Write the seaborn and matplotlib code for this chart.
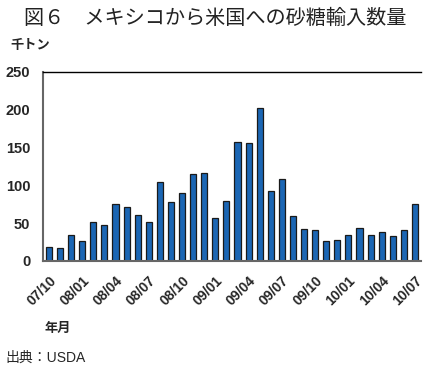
import pandas as pd
import numpy as np
import matplotlib
matplotlib.use('Agg')
import matplotlib.pyplot as plt
import seaborn as sns

# -------------------------------
# DATA
# -------------------------------

months = [
    '07/10', '07/11', '07/12',
    '08/01', '08/02', '08/03', '08/04', '08/05', '08/06',
    '08/07', '08/08', '08/09', '08/10', '08/11', '08/12',
    '09/01', '09/02', '09/03', '09/04', '09/05', '09/06',
    '09/07', '09/08', '09/09', '09/10', '09/11', '09/12',
    '10/01', '10/02', '10/03', '10/04', '10/05', '10/06', '10/07'
]

imports = [
    18, 17, 35,
    27, 52, 48, 75, 72, 61,
    51, 104, 78, 90, 115, 117,
    57, 80, 157, 156, 203, 92,
    109, 59, 42, 41, 26, 28,
    35, 44, 35, 38, 33, 41, 75
]

tick_labels = ['07/10', '08/01', '08/04', '08/07', '08/10', '09/01',
               '09/04', '09/07', '09/10', '10/01', '10/04', '10/07']

df = pd.DataFrame({'month': months, 'imports': imports})

# -------------------------------
# PLOT
# -------------------------------

sns.set_style('white')
plt.rcParams['font.family'] = ['Noto Sans CJK JP', 'DejaVu Sans']
latin = ['Liberation Sans', 'Noto Sans CJK JP']

fig = plt.figure(figsize=(4.24, 3.71), dpi=100)
ax = fig.add_axes([0.101, 0.2965, 0.892, 0.5095])

sns.barplot(
    data=df,
    x='month',
    y='imports',
    color='#1b66b4',
    saturation=1,
    width=0.55,
    edgecolor='#1a1a1a',
    linewidth=0.9,
    ax=ax
)

ax.set_xlim(-0.55, len(months) - 0.45)
ax.set_ylim(0, 250)
ax.set_yticks([0, 50, 100, 150, 200, 250])
ax.set_yticklabels(['0', '50', '100', '150', '200', '250'],
                   fontsize=10.5, fontweight='bold', family=latin)

pos = [months.index(m) for m in tick_labels]
ax.set_xticks(pos)
ax.set_xticklabels(tick_labels, rotation=45, ha='right',
                   rotation_mode='anchor', fontsize=10, fontweight='bold',
                   family=latin)
ax.set_xticks(np.arange(len(months)) + 0.5, minor=True)
ax.tick_params(axis='x', which='major', length=0, pad=9)
ax.tick_params(axis='x', which='minor', direction='in', length=3,
               color='#777777', width=0.8)
ax.tick_params(axis='y', length=0, pad=9)

ax.set_xlabel('')
ax.set_ylabel('')

ax.spines['right'].set_visible(False)
ax.spines['top'].set_color('black')
ax.spines['top'].set_linewidth(1.0)
ax.spines['left'].set_color('#666666')
ax.spines['left'].set_linewidth(1.5)
ax.spines['bottom'].set_color('#666666')
ax.spines['bottom'].set_linewidth(1.5)

fig.text(0.507, 0.978, '図６　メキシコから米国への砂糖輸入数量',
         ha='center', va='top', fontsize=14.5, color='#222222')
fig.text(0.024, 0.878, '千トン', ha='left', va='center',
         fontsize=9.5, fontweight='bold')
fig.text(0.104, 0.117, '年月', ha='left', va='center',
         fontsize=9.5, fontweight='bold')
fig.text(0.012, 0.037, '出典：USDA', ha='left', va='center',
         fontsize=10, family=latin)

fig.savefig('out.png', dpi=100)
plt.close()
